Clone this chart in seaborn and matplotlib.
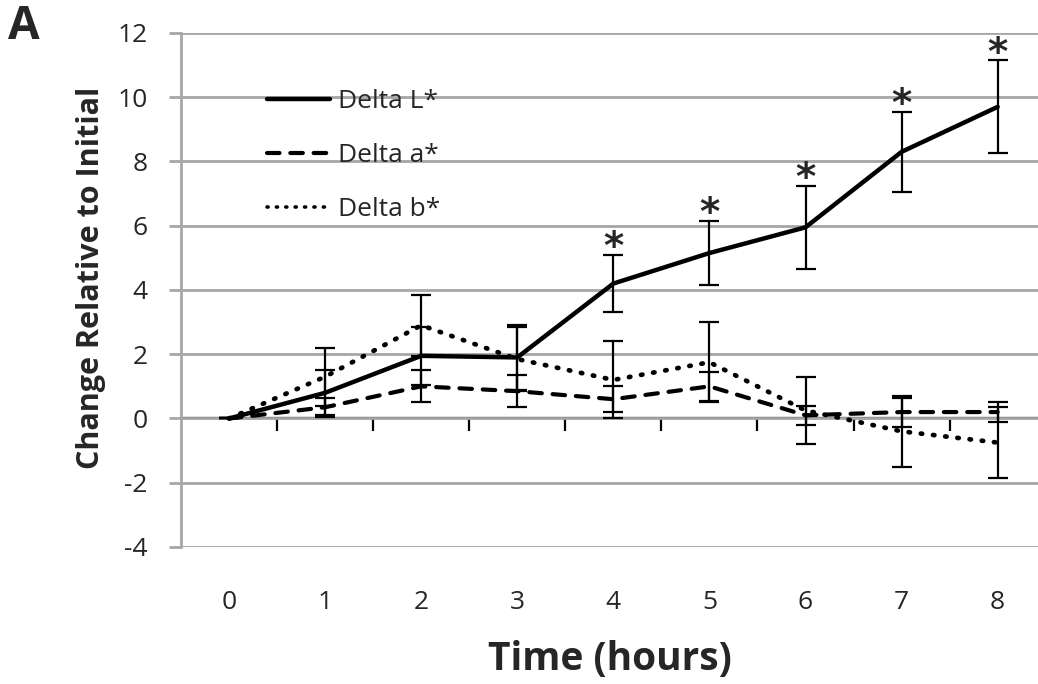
import numpy as np
import pandas as pd
import seaborn as sns
import matplotlib
matplotlib.use("Agg")
import matplotlib.pyplot as plt

hours = [0, 1, 2, 3, 4, 5, 6, 7, 8]
delta_L = [0.0, 0.8, 1.95, 1.9, 4.2, 5.15, 5.95, 8.3, 9.7]
delta_L_err = [0.0, 0.7, 0.9, 1.0, 0.9, 1.0, 1.3, 1.25, 1.45]
delta_a = [0.0, 0.35, 1.0, 0.85, 0.6, 1.0, 0.1, 0.2, 0.2]
delta_a_err = [0.0, 0.3, 0.5, 0.5, 0.4, 0.45, 0.3, 0.45, 0.3]
delta_b = [0.0, 1.3, 2.9, 1.85, 1.2, 1.75, 0.25, -0.4, -0.75]
delta_b_err = [0.0, 0.9, 0.95, 1.0, 1.2, 1.25, 1.05, 1.1, 1.1]
significant = [4, 5, 6, 7, 8]

series_names = ["Delta L*", "Delta a*", "Delta b*"]

df = pd.DataFrame({
    "hours": hours * 3,
    "value": delta_L + delta_a + delta_b,
    "err": delta_L_err + delta_a_err + delta_b_err,
    "series": [s for s in series_names for _ in hours],
})

sns.set_style("white")
plt.rcParams["font.family"] = ["Open Sans", "DejaVu Sans"]
plt.rcParams["axes.unicode_minus"] = False
plt.rcParams["lines.dash_capstyle"] = "round"

fig = plt.figure(figsize=(10.38, 6.84), dpi=100)
ax = fig.add_axes([0.1744, 0.2003, 0.8256, 0.7515])

dashes = {"Delta L*": "", "Delta a*": (3.0, 2.6), "Delta b*": (0.3, 2.3)}
widths = {"Delta L*": 3.2, "Delta a*": 3.0, "Delta b*": 3.4}

sns.lineplot(data=df, x="hours", y="value", style="series", dashes=dashes,
             color="black", ax=ax, legend=True)
for line, name in zip(ax.get_lines(), series_names):
    line.set_linewidth(widths[name])

# error bars
for name in series_names:
    sub = df[df["series"] == name]
    ax.errorbar(sub["hours"], sub["value"], yerr=sub["err"], fmt="none",
                ecolor="black", elinewidth=1.6, capsize=7, capthick=1.6)

# significance markers
for h in significant:
    top = delta_L[h] + delta_L_err[h]
    ax.text(h, top + 0.2, "*", ha="center", va="center", fontsize=28,
            fontweight="bold", family="DejaVu Sans")

ax.set_xlim(-0.5, 8.42)
ax.set_ylim(-4, 12)
ax.set_xticks(hours)
ax.set_yticks(np.arange(-4, 13, 2))
ax.grid(axis="y", color="#a6a6a6", linewidth=2)
ax.set_axisbelow(True)
ax.tick_params(axis="x", length=0, labelsize=19, pad=31)
ax.tick_params(axis="y", length=9, width=2, color="#a6a6a6", labelsize=19, pad=15,
               left=True)
for side in ["top", "right", "bottom"]:
    ax.spines[side].set_visible(False)
ax.spines["left"].set_color("#a6a6a6")
ax.spines["left"].set_linewidth(2)

# zero axis with ticks between categories
zero_ax = ax.secondary_xaxis(0.25)
zero_ax.set_xticks(np.arange(0.5, 8, 1))
zero_ax.tick_params(axis="x", direction="out", length=9, width=1.6, color="black",
                    labelbottom=False)
zero_ax.spines["bottom"].set_color("black")
zero_ax.spines["bottom"].set_linewidth(1.6)

ax.set_xlabel("Time (hours)", fontsize=28, fontweight="bold", labelpad=18)
ax.set_ylabel("Change Relative to Initial", fontsize=22, fontweight="bold")
ax.yaxis.set_label_coords(-0.087, 0.523)

leg = ax.legend(loc="upper left", bbox_to_anchor=(0.085, 0.917), frameon=False,
                borderpad=0, fontsize=19, handlelength=2.4, handletextpad=0.27,
                labelspacing=1.1)
for line, name in zip(leg.get_lines(), series_names):
    line.set_color("black")
    line.set_linewidth(widths[name])
    if name == "Delta b*":
        line.set_linewidth(2.6)

fig.text(0.008, 0.995, "A", fontsize=33, fontweight="bold", va="top", ha="left")

fig.savefig("out.png", dpi=100)
